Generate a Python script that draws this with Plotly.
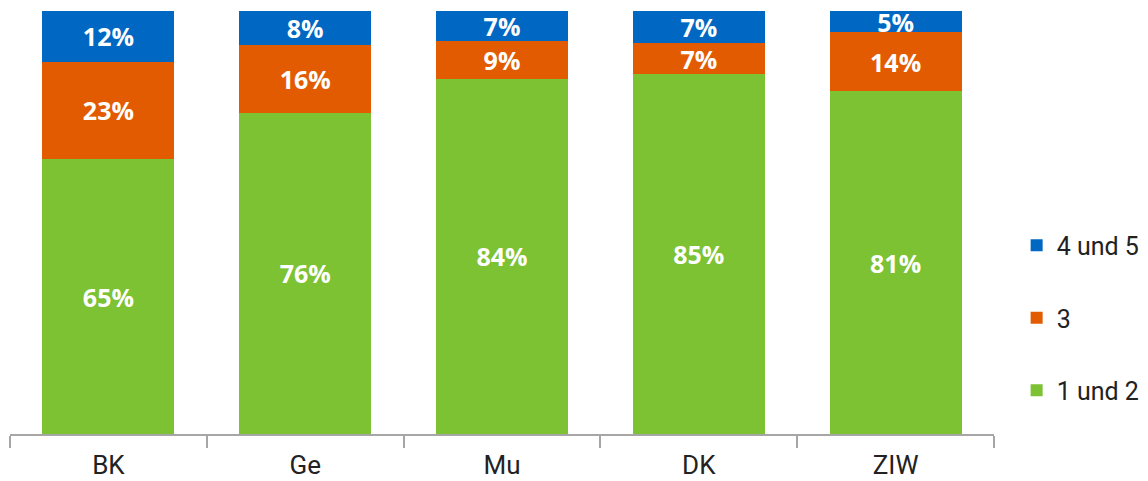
import plotly.graph_objects as go

categories = ["BK", "Ge", "Mu", "DK", "ZIW"]
vals_12 = [65, 76, 84, 85, 81]
vals_3 = [23, 16, 9, 7.4, 14]
vals_45 = [12, 8, 7, 7.6, 5]
labels_12 = ["65%", "76%", "84%", "85%", "81%"]
labels_3 = ["23%", "16%", "9%", "7%", "14%"]
labels_45 = ["12%", "8%", "7%", "7%", "5%"]

series = [
    ("1 und 2", vals_12, labels_12, "#7cc233", 3),
    ("3", vals_3, labels_3, "#e35b00", 2),
    ("4 und 5", vals_45, labels_45, "#0067c2", 1),
]

fig = go.Figure()
for name, vals, labs, col, rank in series:
    fig.add_trace(go.Bar(
        x=categories, y=vals, name=name, text=labs,
        textposition="inside", insidetextanchor="middle",
        constraintext="none", cliponaxis=False,
        textfont=dict(family="Open Sans", size=25, color="white", weight="bold"),
        marker=dict(color=col, line=dict(width=0)),
        legendgroup=name, legendrank=rank,
    ))

fig.update_layout(
    barmode="stack",
    bargap=0.33,
    width=1148, height=481,
    margin=dict(l=10, r=154, t=11, b=47, autoexpand=False),
    plot_bgcolor="white", paper_bgcolor="white",
    font=dict(family="Roboto", color="#222222"),
    showlegend=True,
    legend=dict(x=1.023, y=0.274, xanchor="left", yanchor="middle",
                traceorder="grouped", tracegroupgap=37,
                font=dict(family="Roboto", size=25, color="#222222"),
                itemwidth=30),
)
fig.update_xaxes(
    automargin=False,
    showline=True, linecolor="#a6a6a6", linewidth=2,
    ticks="outside", tickson="boundaries", ticklen=12, tickcolor="#a6a6a6", tickwidth=2,
    ticklabelstandoff=7,
    tickfont=dict(family="Roboto", size=26, color="#222222"),
)
fig.update_yaxes(range=[0, 100], visible=False, showgrid=False)

fig.write_html("out.html")
